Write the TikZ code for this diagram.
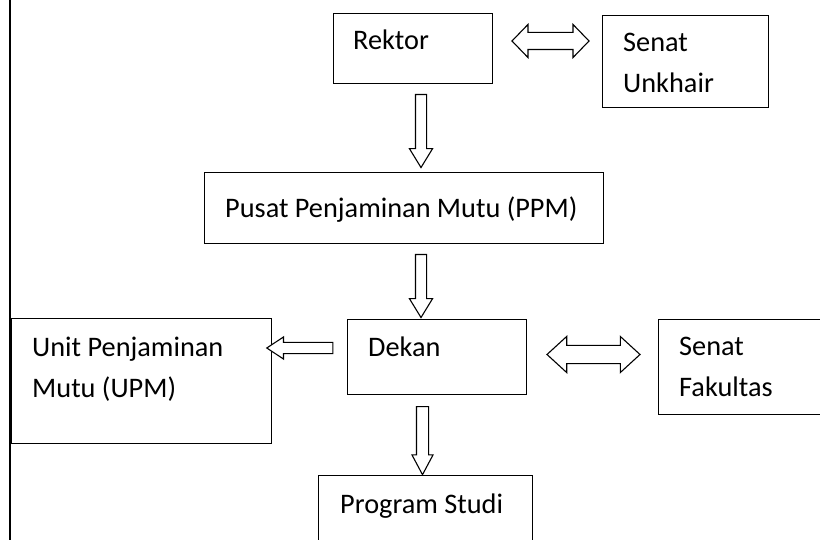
\documentclass[tikz,border=0pt]{standalone}
\usepackage{fontspec}
\setmainfont{Carlito}
\usetikzlibrary{shapes.arrows}

\tikzset{
  kotak/.style={draw, line width=1.1pt, rectangle, anchor=north west, inner sep=0pt},
  teks/.style={anchor=base west, inner sep=0pt, align=left,
    font=\fontsize{28.3}{41}\selectfont},
  panah/.style={single arrow, draw, line width=1.1pt, fill=white,
    minimum width=0pt, single arrow head indent=0pt},
  panahdua/.style={double arrow, draw, line width=1.1pt, fill=white,
    minimum width=0pt, double arrow head indent=0pt}
}

\begin{document}
\begin{tikzpicture}[x=1pt,y=-1pt]
  \clip (0,0) rectangle (820,540);
  \fill[white] (0,0) rectangle (820,540);
  % left margin line
  \draw[line width=1.6pt] (10,0) -- (10,540);
  % boxes
  \node[kotak, minimum width=159pt, minimum height=70pt] (rektor) at (333,13) {};
  \node[kotak, minimum width=166pt, minimum height=92pt] (senatU) at (602,15) {};
  \node[kotak, minimum width=399pt, minimum height=71pt] (ppm) at (204,172) {};
  \node[kotak, minimum width=179pt, minimum height=75pt] (dekan) at (347,319) {};
  \node[kotak, minimum width=260pt, minimum height=125pt] (upm) at (11,318) {};
  \node[kotak, minimum width=200pt, minimum height=95pt] (senatF) at (658,319) {};
  \node[kotak, minimum width=214pt, minimum height=100pt] (prodi) at (318,475) {};
  % texts (two-line texts sit on their last line)
  \node[teks] (tRektor) at ([shift={(20,37)}]rektor.north west) {Rektor};
  \node[teks] (tSenatU) at ([shift={(21,78)}]senatU.north west) {Senat\\Unkhair};
  \node[teks] (tPpm) at ([shift={(21,46)}]ppm.north west) {Pusat Penjaminan Mutu (PPM)};
  \node[teks] (tDekan) at ([shift={(21,37)}]dekan.north west) {Dekan};
  \node[teks] (tUpm) at ([shift={(21,79)}]upm.north west) {Unit Penjaminan\\Mutu (UPM)};
  \node[teks] (tSenatF) at ([shift={(21,77)}]senatF.north west) {Senat\\Fakultas};
  \node[teks] (tProdi) at ([shift={(22,38)}]prodi.north west) {Program Studi};
  % vertical arrows
  \node[panah, rotate=-90, inner sep=5pt, minimum height=73pt,
    single arrow head extend=6pt, single arrow tip angle=63] (p1) at (421,126.5) {};
  \node[panah, rotate=-90, inner sep=5pt, minimum height=63pt,
    single arrow head extend=6pt, single arrow tip angle=63] (p2) at (421,281.5) {};
  \node[panah, rotate=-90, inner sep=5.5pt, minimum height=68pt,
    single arrow head extend=4.5pt, single arrow tip angle=56] (p3) at (422.5,435) {};
  % horizontal arrows
  \node[panah, rotate=180, inner sep=5pt, minimum height=66pt,
    single arrow head extend=5.5pt, single arrow tip angle=67] (p4) at (304,348) {};
  \node[panahdua, inner sep=8pt, minimum height=77pt,
    double arrow head extend=8pt, double arrow tip angle=92] (p5) at (550.5,41) {};
  \node[panahdua, inner sep=8.5pt, minimum height=93pt,
    double arrow head extend=9pt, double arrow tip angle=85] (p6) at (593.5,354.5) {};
\end{tikzpicture}
\end{document}
